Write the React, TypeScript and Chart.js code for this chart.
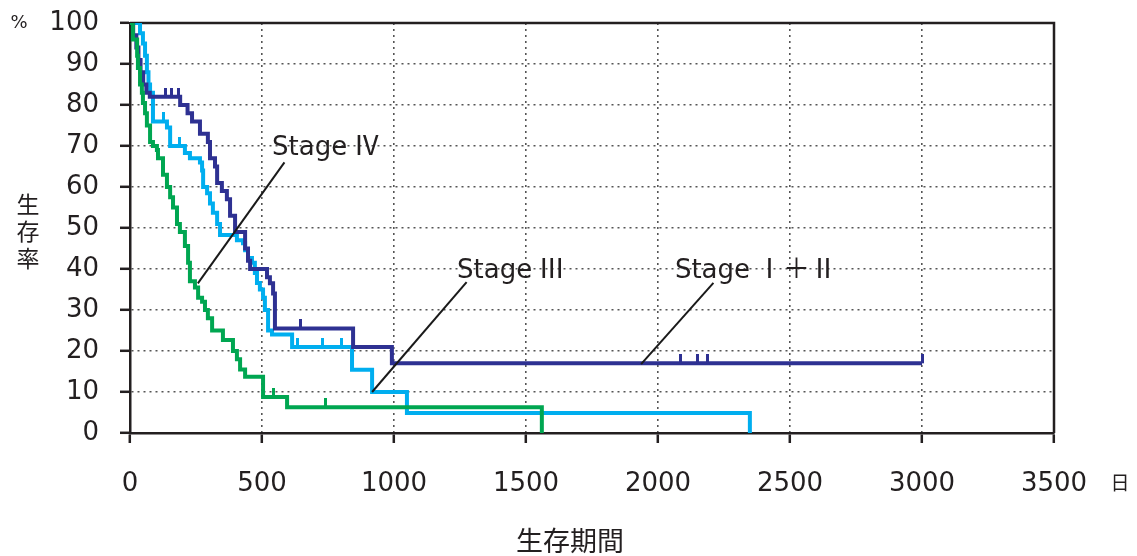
import React, { useEffect, useRef } from 'react';
import { Chart, registerables } from 'chart.js';

Chart.register(...registerables);

// Kaplan–Meier survival by stage (days, % surviving)
const stage12Days = [0, 12, 24, 32, 40, 50, 62, 75, 190, 218, 235, 265, 295, 303, 322, 330, 348, 367, 379, 398, 436, 447, 455, 519, 530, 542, 549, 845, 992, 3000];
const stage12Surv = [100, 97, 94, 91, 88, 85, 83, 82, 80, 78, 76, 73, 71, 67, 65, 61, 59, 57, 53, 49, 45, 42, 40, 38, 36.5, 34, 25.5, 21, 17, 17];

const stage3Days = [0, 38, 49, 57, 64, 70, 76, 87, 140, 152, 208, 227, 265, 273, 277, 292, 303, 314, 330, 341, 405, 428, 436, 447, 462, 473, 481, 492, 504, 511, 523, 538, 614, 841, 917, 1049, 2348];
const stage3Surv = [100, 97.5, 95, 92, 88, 85, 83, 76, 74.5, 70, 68.3, 67, 66, 64, 60, 58.5, 56, 53.7, 51, 48.3, 47, 46.3, 44.6, 42.7, 41.5, 39, 36.6, 35, 33, 30, 25, 24, 21, 15.4, 10, 4.9, 0];

const stage4Days = [0, 11, 27, 30, 38, 45, 49, 57, 64, 76, 87, 102, 106, 125, 140, 152, 163, 178, 189, 208, 220, 227, 246, 258, 273, 284, 295, 311, 352, 390, 405, 417, 436, 504, 595, 1560];
const stage4Surv = [100, 96, 92, 89, 85, 83, 80.5, 78, 75, 71, 70, 69, 67, 63, 60, 57.5, 55, 51, 49, 45.6, 41.5, 37, 35.5, 33, 32, 30, 28, 25, 22.7, 20, 18, 15.5, 13.7, 8.8, 6.3, 0];

// Censored observations
const stage12CensorDays = [133, 159, 182, 644, 2087, 2148, 2186, 3000];
const stage12CensorSurv = [82, 82, 82, 25.5, 17, 17, 17, 17];
const stage3CensorDays = [125, 189, 636, 731, 803];
const stage3CensorSurv = [76, 70, 21, 21, 21];
const stage4CensorDays = [542, 739];
const stage4CensorSurv = [8.8, 6.3];

// Axis ticks
const xTicks = [0, 500, 1000, 1500, 2000, 2500, 3000, 3500];
const yTicks = [0, 10, 20, 30, 40, 50, 60, 70, 80, 90, 100];

// Stage labels (text baseline) with leader lines (data coordinates)
const stageNames = ['Stage', 'Stage', 'Stage'];
const stageNumerals = ['Ⅳ', 'Ⅲ', 'Ⅰ＋Ⅱ'];
const labelAt = [[538, 67.7], [1239, 37.8], [2064, 37.8]];
const leaderFrom = [[257, 36.5], [917, 10], [1936, 16.8]];
const leaderTo = [[585, 66], [1275, 36.8], [2210, 36.6]];

const INK = '#231f20';
const C12 = '#2e3192';
const C3 = '#00aeef';
const C4 = '#00a651';
const LATIN = '"DejaVu Sans", "Liberation Sans", sans-serif';
const CJK = '"Noto Sans CJK JP", sans-serif';

const zip = (xs: number[], ys: number[]) => xs.map((x, i) => ({ x, y: ys[i] }));

function censorMark(color: string): HTMLCanvasElement {
  const c = document.createElement('canvas');
  c.width = 3;
  c.height = 18;
  const g = c.getContext('2d')!;
  g.fillStyle = color;
  g.fillRect(0, 0, 3, 9);
  return c;
}

const framePlugin = {
  id: 'frame',
  beforeDatasetsDraw(chart: any) {
    const { ctx, chartArea: a } = chart;
    ctx.save();
    ctx.strokeStyle = INK;
    ctx.lineWidth = 2.5;
    ctx.beginPath();
    ctx.moveTo(a.left, a.top);
    ctx.lineTo(a.right, a.top);
    ctx.lineTo(a.right, a.bottom);
    ctx.stroke();
    ctx.restore();
  },
};

const textPlugin = {
  id: 'texts',
  afterDatasetsDraw(chart: any) {
    const { ctx } = chart;
    const xs = chart.scales.x;
    const ys = chart.scales.y;
    ctx.save();
    // leader lines
    ctx.strokeStyle = '#1a1a1a';
    ctx.lineWidth = 2;
    for (let i = 0; i < leaderFrom.length; i++) {
      ctx.beginPath();
      ctx.moveTo(xs.getPixelForValue(leaderFrom[i][0]), ys.getPixelForValue(leaderFrom[i][1]));
      ctx.lineTo(xs.getPixelForValue(leaderTo[i][0]), ys.getPixelForValue(leaderTo[i][1]));
      ctx.stroke();
    }
    // stage labels
    ctx.fillStyle = INK;
    ctx.textBaseline = 'alphabetic';
    ctx.textAlign = 'left';
    for (let i = 0; i < labelAt.length; i++) {
      const px = xs.getPixelForValue(labelAt[i][0]);
      const py = ys.getPixelForValue(labelAt[i][1]);
      ctx.font = `26px ${LATIN}`;
      ctx.fillText(stageNames[i], px, py);
      const w = ctx.measureText(stageNames[i]).width;
      ctx.font = `27px ${CJK}`;
      ctx.fillText(stageNumerals[i], px + w + 6, py);
    }
    ctx.restore();
  },
  afterDraw(chart: any) {
    const { ctx } = chart;
    ctx.save();
    ctx.fillStyle = INK;
    ctx.textAlign = 'center';
    ctx.textBaseline = 'middle';
    ctx.font = `18px ${LATIN}`;
    ctx.fillText('%', 19, 23);
    ctx.font = `19px ${CJK}`;
    ctx.fillText('日', 1120, 483);
    ctx.font = `23px ${CJK}`;
    const yTitle = '生存率';
    for (let i = 0; i < yTitle.length; i++) {
      ctx.fillText(yTitle[i], 28, 204 + i * 27);
    }
    ctx.font = `27px ${CJK}`;
    ctx.fillText('生存期間', 570, 541);
    ctx.restore();
  },
};

export default function App() {
  const ref = useRef<HTMLCanvasElement | null>(null);

  useEffect(() => {
    if (!ref.current) return;
    const gridColor = (v: number, lo: number, hi: number) =>
      v === lo || v === hi ? 'rgba(0,0,0,0)' : '#555';

    const line = (label: string, data: any, color: string) => ({
      type: 'line' as const,
      label,
      data,
      borderColor: color,
      backgroundColor: color,
      borderWidth: 4,
      stepped: true,
      pointRadius: 0,
      fill: false,
      borderCapStyle: 'butt',
      borderJoinStyle: 'miter',
    });
    const censor = (label: string, data: any, color: string) => ({
      type: 'scatter' as const,
      label,
      data,
      pointStyle: censorMark(color),
      pointRadius: 5,
      showLine: false,
    });

    const chart = new Chart(ref.current, {
      type: 'line',
      data: {
        datasets: [
          censor('Stage IV censored', zip(stage4CensorDays, stage4CensorSurv), C4),
          line('Stage IV', zip(stage4Days, stage4Surv), C4),
          censor('Stage I+II censored', zip(stage12CensorDays, stage12CensorSurv), C12),
          line('Stage I+II', zip(stage12Days, stage12Surv), C12),
          censor('Stage III censored', zip(stage3CensorDays, stage3CensorSurv), C3),
          line('Stage III', zip(stage3Days, stage3Surv), C3),
        ] as any,
      },
      options: {
        animation: false,
        responsive: true,
        maintainAspectRatio: false,
        layout: { padding: { top: 23, right: 83, bottom: 0, left: 0 } },
        plugins: { legend: { display: false }, tooltip: { enabled: false } },
        scales: {
          x: {
            type: 'linear',
            min: xTicks[0],
            max: xTicks[xTicks.length - 1],
            afterBuildTicks: (s: any) => { s.ticks = xTicks.map((value) => ({ value })); },
            afterFit: (s: any) => {
              s.height = 123;
              s.paddingLeft = 0;
              s.paddingRight = 0;
            },
            ticks: {
              color: INK,
              font: { family: LATIN, size: 26 },
              padding: 26,
              maxRotation: 0,
              autoSkip: false,
              callback: (v: any) => String(v),
            },
            grid: {
              color: (c: any) => gridColor(c.tick?.value, 0, 3500),
              lineWidth: 1.6,
              tickLength: 10,
              tickColor: INK,
              tickWidth: 2.5,
            },
            border: { color: INK, width: 2.5, dash: [2, 4] },
          },
          y: {
            type: 'linear',
            min: yTicks[0],
            max: yTicks[yTicks.length - 1],
            afterBuildTicks: (s: any) => { s.ticks = yTicks.map((value) => ({ value })); },
            afterFit: (s: any) => {
              s.width = 130;
              s.paddingTop = 0;
              s.paddingBottom = 0;
            },
            ticks: {
              color: INK,
              font: { family: LATIN, size: 26 },
              padding: 21,
              callback: (v: any) => String(v),
            },
            grid: {
              color: (c: any) => gridColor(c.tick?.value, 0, 100),
              lineWidth: 1.6,
              tickLength: 10,
              tickColor: INK,
              tickWidth: 2.5,
            },
            border: { color: INK, width: 2.5, dash: [2, 4] },
          },
        },
      } as any,
      plugins: [framePlugin, textPlugin],
    });
    return () => chart.destroy();
  }, []);

  return (
    <div style={{ position: 'absolute', left: 0, top: 0, width: 1137, height: 556, background: '#fff' }}>
      <canvas ref={ref} />
    </div>
  );
}
